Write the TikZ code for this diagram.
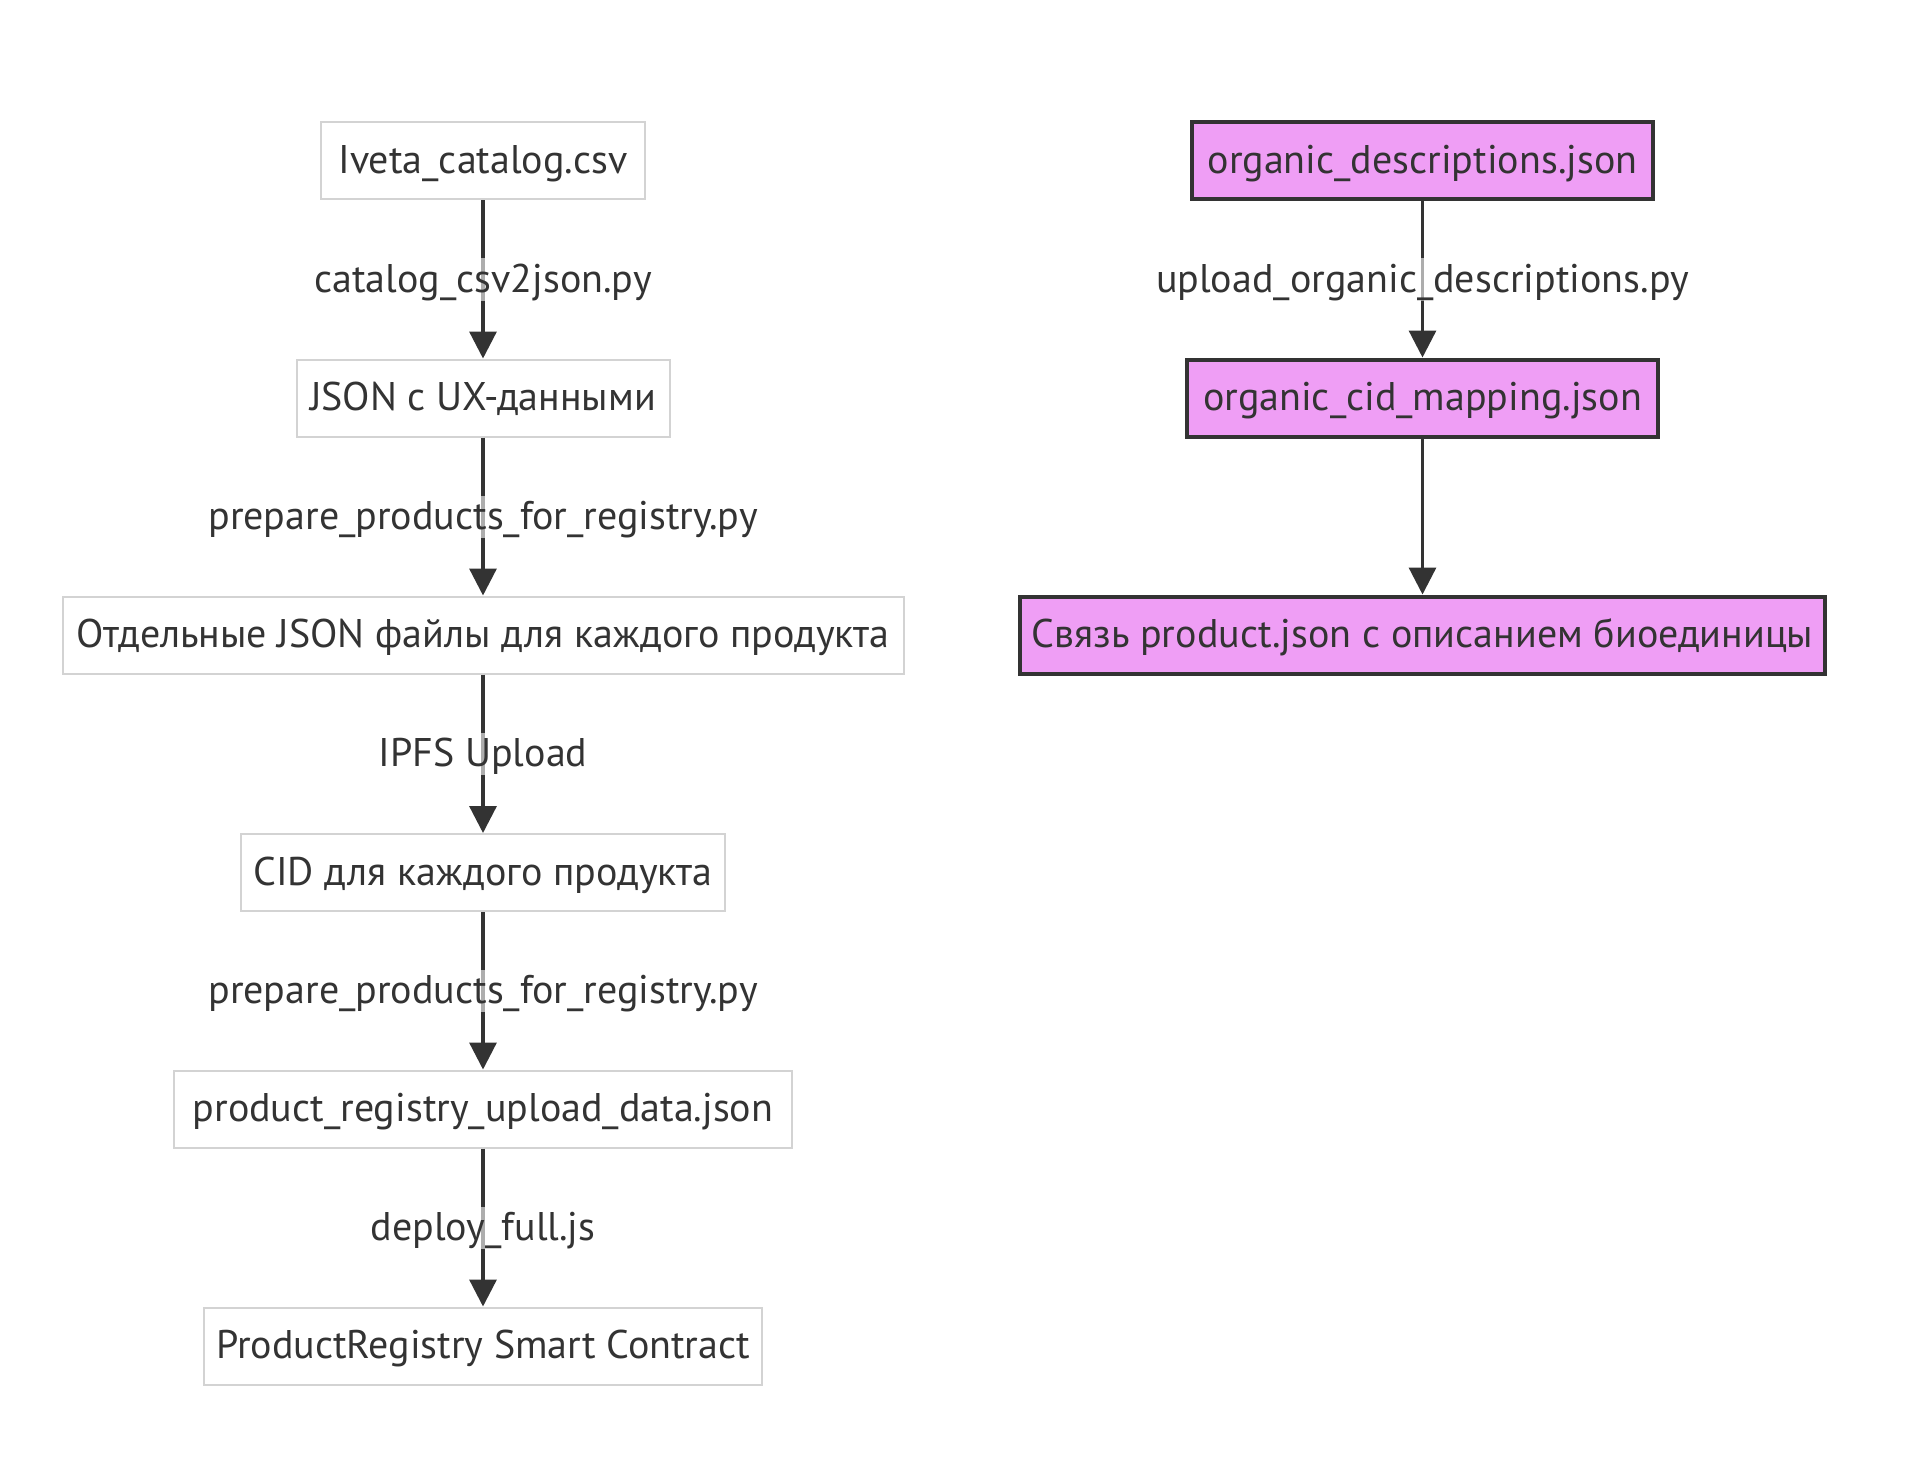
\documentclass[tikz,border=0pt]{standalone}
\usepackage{fontspec}
\setmainfont{PT Sans}
\usetikzlibrary{arrows.meta}
\definecolor{txt}{HTML}{333333}
\definecolor{lgrey}{HTML}{D3D3D3}
\definecolor{pinkfill}{HTML}{EF9EF5}
\definecolor{dark}{HTML}{333333}
\tikzset{
  plainbox/.style={draw=lgrey, line width=2pt, fill=white, inner sep=0pt, minimum height=77pt, text height=30pt, text depth=5pt, text=txt, font=\fontsize{40}{48}\selectfont},
  pinkbox/.style={draw=dark, line width=4pt, fill=pinkfill, inner sep=0pt, minimum height=77pt, text height=30pt, text depth=5pt, text=txt, font=\fontsize{40}{48}\selectfont},
  flow/.style={draw=dark, line width=3.3pt, -{Triangle[width=27pt,length=27pt]}},
  elabel/.style={fill=white, fill opacity=0.6, text opacity=1, text=txt, inner xsep=2pt, inner ysep=4pt, text height=30pt, text depth=4pt, font=\fontsize{40}{48}\selectfont}
}
\begin{document}
\begin{tikzpicture}[x=1pt,y=-1pt]
\useasboundingbox (0,0) rectangle (1920,1474);
\fill[white] (0,0) rectangle (1920,1474);
% left column
\node[plainbox, minimum width=324pt] (a) at (483,161) {Iveta\_catalog.csv};
\node[plainbox, minimum width=373pt] (b) at (483,398) {JSON с UX-данными};
\node[plainbox, minimum width=841pt] (c) at (483,635) {Отдельные JSON файлы для каждого продукта};
\node[plainbox, minimum width=484pt] (d) at (483,872.5) {CID для каждого продукта};
\node[plainbox, minimum width=618pt] (e) at (483,1109) {product\_registry\_upload\_data.json};
\node[plainbox, minimum width=558pt] (f) at (483,1346) {ProductRegistry Smart Contract};
% right column
\node[pinkbox, minimum width=461pt] (g) at (1422.5,161) {organic\_descriptions.json};
\node[pinkbox, minimum width=471pt] (h) at (1422.5,398) {organic\_cid\_mapping.json};
\node[pinkbox, minimum width=805pt] (i) at (1422.5,635) {Связь product.json с описанием биоединицы};
% edges
\draw[flow] (a.south) -- node[elabel] {catalog\_csv2json.py} (b.north);
\draw[flow] (b.south) -- node[elabel] {prepare\_products\_for\_registry.py} (c.north);
\draw[flow] (c.south) -- node[elabel] {IPFS Upload} (d.north);
\draw[flow] (d.south) -- node[elabel] {prepare\_products\_for\_registry.py} (e.north);
\draw[flow] (e.south) -- node[elabel] {deploy\_full.js} (f.north);
\draw[flow] (g.south) -- node[elabel] {upload\_organic\_descriptions.py} (h.north);
\draw[flow] (h.south) -- (i.north);
\end{tikzpicture}
\end{document}
